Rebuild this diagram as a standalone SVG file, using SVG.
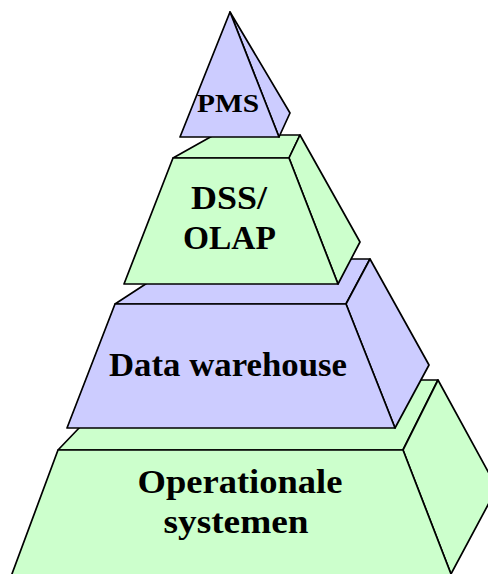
<svg xmlns="http://www.w3.org/2000/svg" width="488" height="574" viewBox="0 0 488 574">
<style>
.b{fill:#CCCCFF;stroke:#000;stroke-width:1.7;stroke-linejoin:round}
.g{fill:#CCFFCC;stroke:#000;stroke-width:1.7;stroke-linejoin:round}
text{font-family:"Liberation Serif","Times New Roman",serif;font-weight:bold;fill:#000;text-anchor:middle}
</style>
<rect width="488" height="574" fill="#fff"/>
<g id="operationale">
<polygon class="g" points="58,450 125,380 438,380 403,450"/>
<polygon class="g" points="403,450 438,380 497,488 451,574"/>
<polygon class="g" points="58,450 403,450 451,574 451,590 6,590"/>
<text x="240" y="493" font-size="33" textLength="205" lengthAdjust="spacingAndGlyphs">Operationale</text>
<text x="236" y="533" font-size="33" textLength="145" lengthAdjust="spacingAndGlyphs">systemen</text>
</g>
<g id="datawarehouse">
<polygon class="b" points="115,304 184,259 370,259 346,304"/>
<polygon class="b" points="346,304 370,259 429,365 395,428"/>
<polygon class="b" points="115,304 346,304 395,428 67,428"/>
<text x="228" y="376" font-size="33" textLength="238" lengthAdjust="spacingAndGlyphs">Data warehouse</text>
</g>
<g id="dss">
<polygon class="g" points="173,158 214,135 300,135 289,158"/>
<polygon class="g" points="289,158 300,135 360,242 338,284"/>
<polygon class="g" points="173,158 289,158 338,284 124,284"/>
<text x="229" y="209" font-size="34" textLength="76" lengthAdjust="spacingAndGlyphs">DSS/</text>
<text x="229.5" y="249" font-size="34" textLength="93" lengthAdjust="spacingAndGlyphs">OLAP</text>
</g>
<g id="pms">
<polygon class="b" points="230,12 290,113 279,137"/>
<polygon class="b" points="230,12 279,137 180,137"/>
<text x="228" y="112" font-size="25" textLength="62" lengthAdjust="spacingAndGlyphs">PMS</text>
</g>
</svg>
